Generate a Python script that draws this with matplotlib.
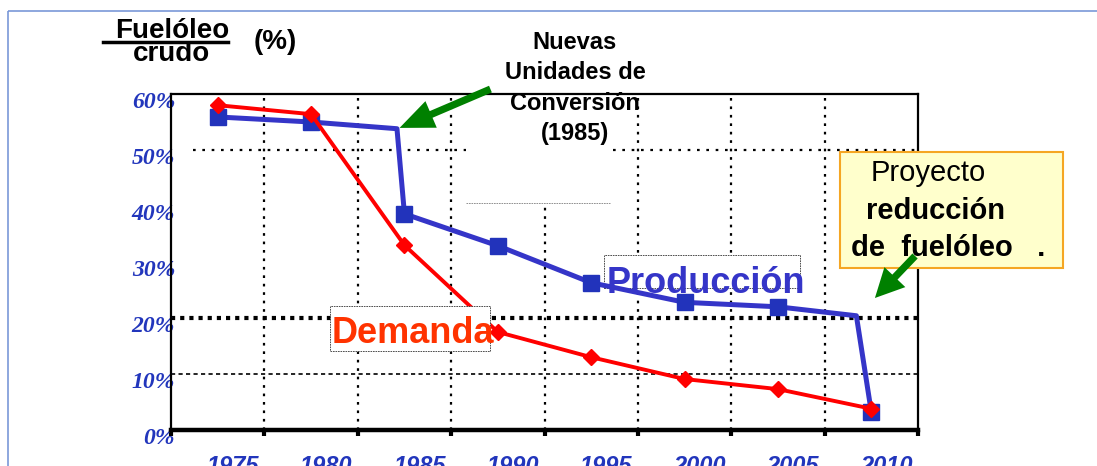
import matplotlib
matplotlib.use("Agg")
import matplotlib.pyplot as plt
from matplotlib.patches import Rectangle, FancyArrowPatch
from matplotlib.transforms import ScaledTranslation

# datos
years = [1975, 1980, 1985, 1990, 1995, 2000, 2005, 2010]
year_labels = ["1975", "1980", "1985", "1990", "1995", "2000", "2005", "2010"]
demanda = [58.0, 56.4, 33.0, 17.5, 13.0, 9.1, 7.3, 3.8]
prod_x = [1975, 1980, 1984.6, 1985, 1990, 1995, 2000, 2005, 2009.2, 2010]
produccion = [55.9, 55.0, 53.8, 38.6, 32.9, 26.3, 22.8, 22.0, 20.4, 3.2]
prod_marks = [0, 1, 3, 4, 5, 6, 7, 9]
y_ticks = [0, 10, 20, 30, 40, 50, 60]

W, H = 1097, 466
def fp(x, y):
    # pixeles de la figura -> fraccion
    return (x / W, 1 - y / H)

blue_txt = "#2236BC"
sans = "Liberation Sans"
serif = "Liberation Serif"

fig = plt.figure(figsize=(W / 100, H / 100), dpi=100)
ax = fig.add_axes([171 / W, 36 / H, 747 / W, 336 / H])

ax.set_xlim(1972.5, 2012.5)
ax.set_ylim(0, 60)

# rejilla
for b in range(1977, 2008, 5):
    ax.axvline(b + 0.5, color="black", lw=1.6, ls=(0, (1.2, 2.6)), zorder=1)
ax.axhline(50, xmin=0.03, color="black", lw=1.6, ls=(0, (1.2, 3)), zorder=1)
ax.axhline(20, color="black", lw=3, ls=(0, (1, 1.2)), zorder=1)
ax.axhline(10, color="black", lw=1.2, ls=(0, (2.5, 2)), zorder=1)

# cajas blancas de los textos
ax.add_patch(Rectangle((1988.3, 40.5), 7.7, 19.5, fc="white", ec="none", zorder=2))
ax.hlines(40.5, 1988.3, 1996.0, color="gray", lw=0.6, ls=(0, (2, 1)), zorder=2)
ax.add_patch(Rectangle((1995.7, 25.3), 10.5, 6.0, fc="white", ec="#333333",
                       lw=0.6, ls=(0, (2, 1)), zorder=2))

ax.plot(prod_x, produccion, color="#3535C8", lw=3.6, marker="s", ms=11,
        mfc="#2233BB", mec="#2233BB", markevery=prod_marks, zorder=3)
ax.plot(years, demanda, color="#FF0000", lw=2.8, marker="D", ms=8.5,
        mfc="#FF0000", mec="#FF0000", zorder=4)

ax.add_patch(Rectangle((1981.0, 14.1), 8.6, 8.0, fc="white", ec="#333333",
                       lw=0.6, ls=(0, (2, 1)), zorder=5))
ax.text(1981.1, 15.5, "Demanda", color="#FF3300", fontsize=26, fontweight="bold",
        family=sans, va="baseline", ha="left", zorder=6)
ax.text(1995.8, 24.5, "Producción", color="#3535C8", fontsize=26, fontweight="bold",
        family=sans, va="baseline", ha="left", zorder=6)

# ejes
for s in ["left", "top", "right"]:
    ax.spines[s].set_linewidth(1.6)
ax.spines["bottom"].set_linewidth(3.2)

ax.set_xticks([1972.5 + 5 * i for i in range(9)])
ax.set_xticklabels([])
ax.set_xticks(years, minor=True)
ax.set_xticklabels(year_labels, minor=True)
ax.tick_params(axis="x", which="major", length=4, width=3, direction="out")
ax.tick_params(axis="x", which="minor", length=0, pad=18, labelsize=17,
               labelcolor=blue_txt)
ax.set_yticks(y_ticks)
ax.set_yticklabels([f"{v}%" for v in y_ticks])
ax.tick_params(axis="y", length=0, pad=-3, labelsize=17, labelcolor=blue_txt)

for lab in ax.get_xticklabels(minor=True):
    lab.set_fontfamily(sans)
    lab.set_fontweight("bold")
    lab.set_fontstyle("italic")
    lab.set_transform(lab.get_transform() + ScaledTranslation(0.15, 0, fig.dpi_scale_trans))
for lab in ax.get_yticklabels():
    lab.set_fontfamily(serif)
    lab.set_fontweight("bold")
    lab.set_fontstyle("italic")
    lab.set_transform(lab.get_transform() + ScaledTranslation(0, -0.06, fig.dpi_scale_trans))

# marco de la diapositiva
fig.patches.append(Rectangle(fp(8, 11), 2, -2, fill=False, ec="#7A98D8", lw=1.2,
                             transform=fig.transFigure, zorder=0))

# titulo
fig.text(*fp(172, 31), "Fuelóleo", fontsize=20, fontweight="bold", family=sans,
         ha="center", va="center")
fig.add_artist(plt.Line2D([103 / W, 228 / W], [1 - 42 / H, 1 - 42 / H],
                          color="black", lw=2.5, transform=fig.transFigure))
fig.text(*fp(172, 54), "crudo", fontsize=20, fontweight="bold", family=sans,
         ha="center", va="center")
fig.text(*fp(275, 42), "(%)", fontsize=20, fontweight="bold", family=sans,
         ha="center", va="center")

fig.text(*fp(575, 88), "Nuevas\nUnidades de\nConversión\n(1985)", fontsize=17,
         fontweight="bold", family=sans, ha="center", va="center",
         linespacing=1.4, zorder=4)

# caja del proyecto
fig.patches.append(Rectangle(fp(840, 268), 223 / W, 116 / H, fc="#FFFFCC",
                             ec="#F5A623", lw=1.5, transform=fig.transFigure, zorder=2))
fig.text(*fp(928, 173), "Proyecto", fontsize=21, family=sans, ha="center",
         va="center", zorder=4)
fig.text(*fp(935, 211), "reducción", fontsize=21, fontweight="bold", family=sans,
         ha="center", va="center", zorder=4)
fig.text(*fp(851, 248), "de  fuelóleo   .", fontsize=21, fontweight="bold",
         family=sans, ha="left", va="center", zorder=4)

# flechas verdes
for a, b, hl in [((493, 88), (397, 129), 1.9), ((917, 254), (873, 300), 1.6)]:
    fig.add_artist(FancyArrowPatch(fp(*a), fp(*b), transform=fig.transFigure,
                                   arrowstyle=f"simple,head_length={hl},head_width=1.6,tail_width=0.4",
                                   mutation_scale=13, color="#008000", lw=0, zorder=5))

fig.savefig("out.png", dpi=100)
